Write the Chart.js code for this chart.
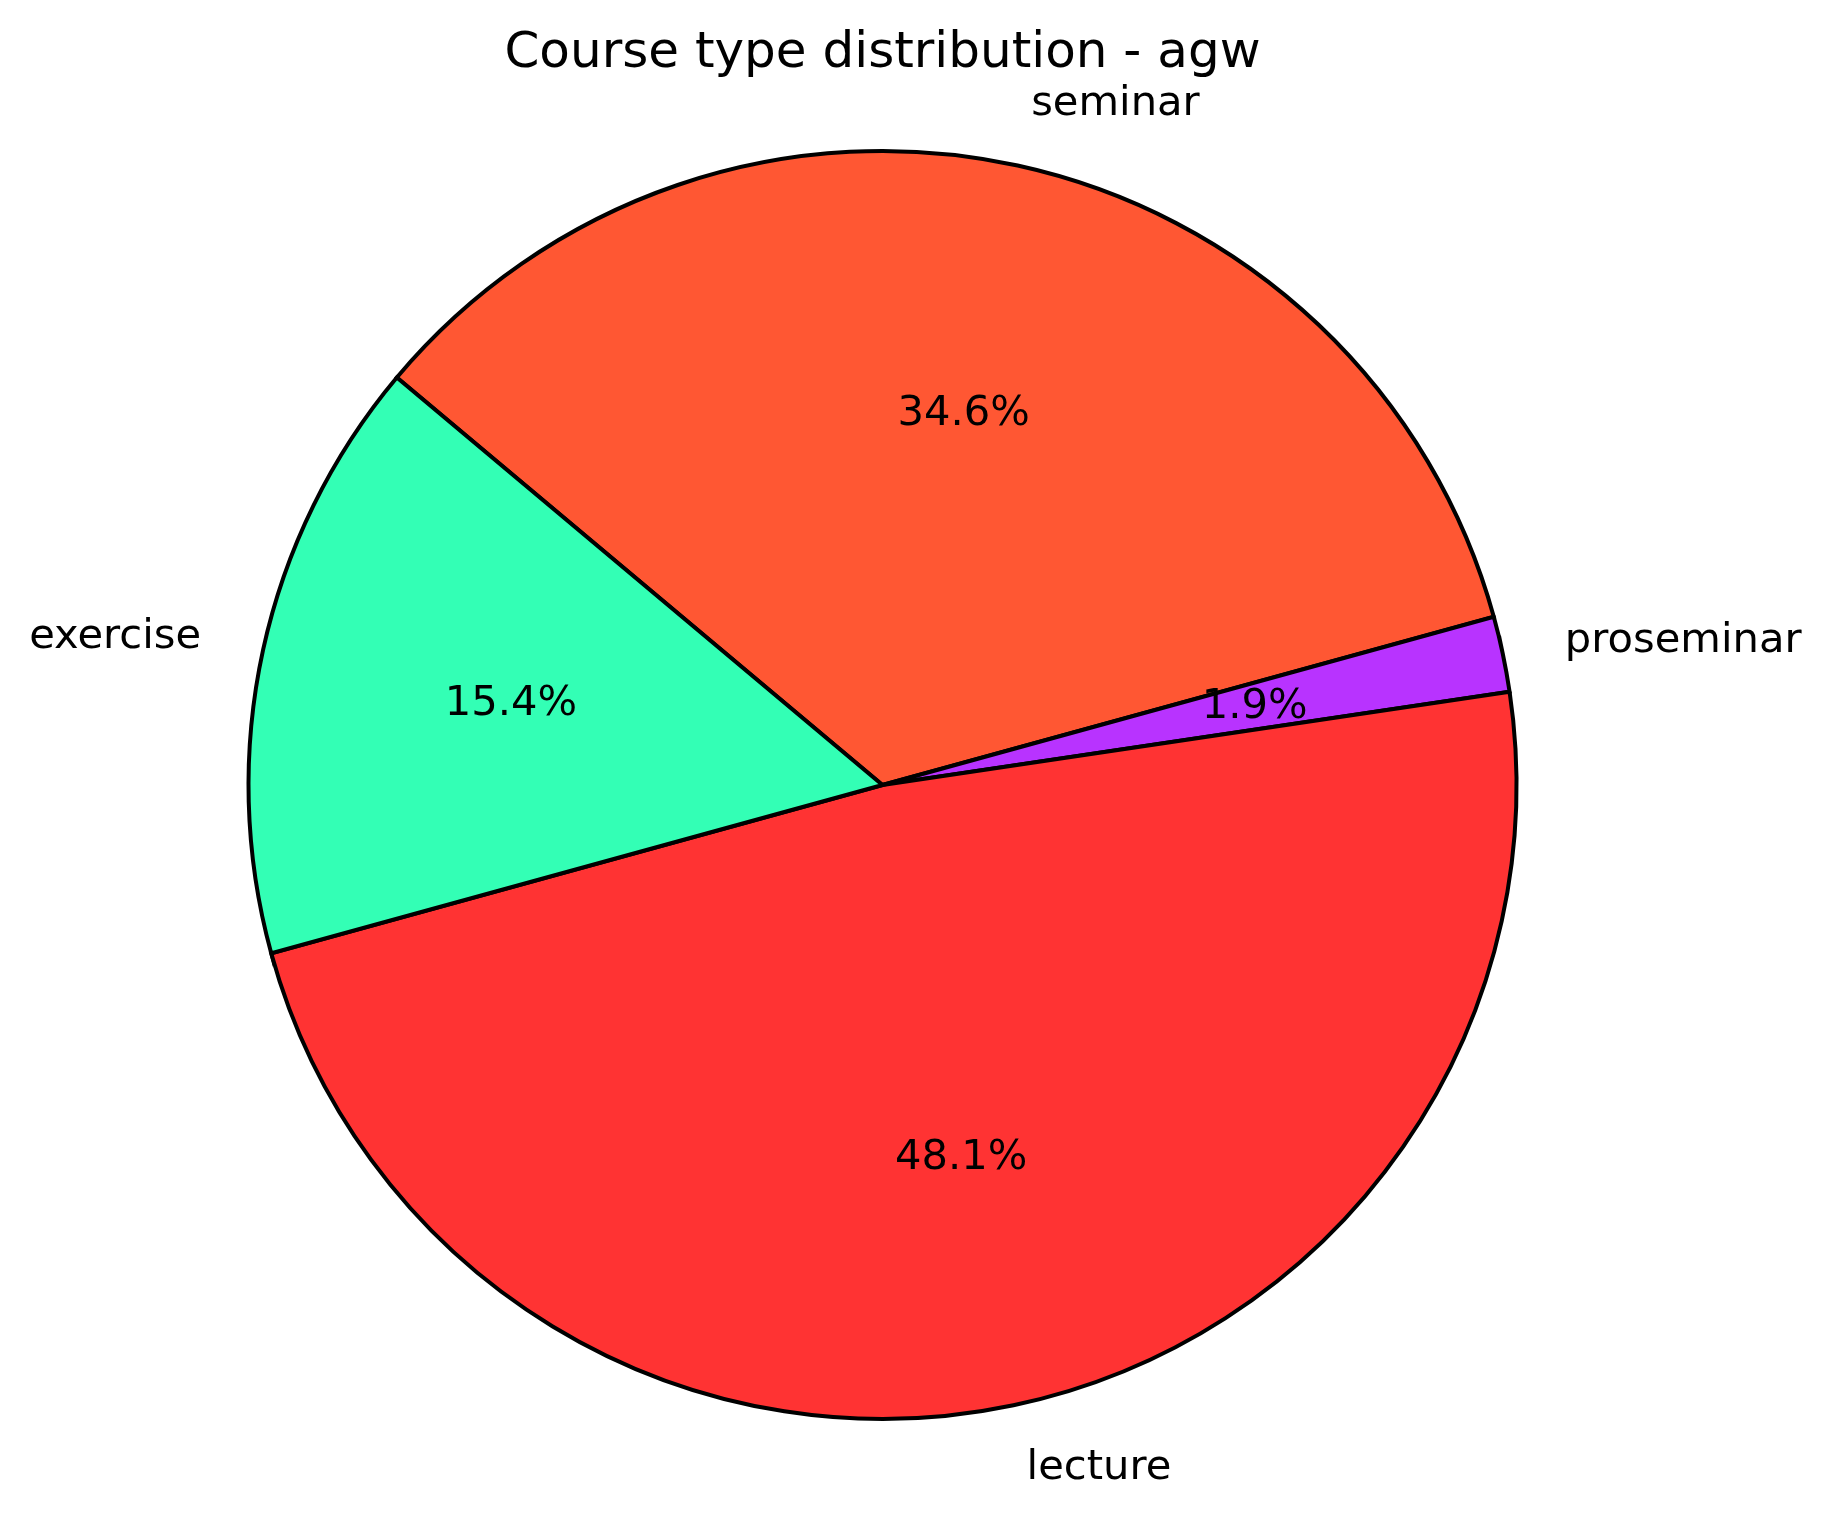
<!DOCTYPE html>
<html>
<head>
<meta charset="utf-8">
<script src="https://cdn.jsdelivr.net/npm/chart.js@4/dist/chart.umd.min.js"></script>
<style>
  html, body { margin: 0; padding: 0; background: #ffffff; }
  canvas { display: block; }
</style>
</head>
<body>
<canvas id="c" width="1832" height="1518"></canvas>
<script>
// Data (clockwise order as drawn by Chart.js, matching matplotlib's counter-clockwise layout)
const categories = ['seminar', 'proseminar', 'lecture', 'exercise'];
const counts = [18, 1, 25, 8];
const sliceColors = ['#FF5733', '#B833FF', '#FF3333', '#33FFB5'];
const chartTitle = 'Course type distribution - agw';

const FONT = '"DejaVu Sans", "Liberation Sans", sans-serif';
const LABEL_PX = 41.67;
const TITLE_PX = 50;
const VCENTER_OFFSET = 11.5; // baseline shift to emulate matplotlib va='center'

const labelPlugin = {
  id: 'mplLabels',
  afterDatasetsDraw(chart) {
    const ctx = chart.ctx;
    const meta = chart.getDatasetMeta(0);
    const data = chart.data.datasets[0].data;
    const total = data.reduce((a, b) => a + b, 0);
    ctx.save();
    ctx.fillStyle = '#000000';
    ctx.font = LABEL_PX + 'px ' + FONT;
    ctx.textBaseline = 'alphabetic';
    meta.data.forEach((arc, i) => {
      const p = arc.getProps(['x', 'y', 'startAngle', 'endAngle', 'outerRadius'], true);
      const mid = (p.startAngle + p.endAngle) / 2;
      const c = Math.cos(mid), s = Math.sin(mid);
      // category label at 1.1 R
      const lx = p.x + c * p.outerRadius * 1.1;
      const ly = p.y + s * p.outerRadius * 1.1;
      ctx.textAlign = c > 0 ? 'left' : 'right';
      ctx.fillText(chart.data.labels[i], lx, ly + VCENTER_OFFSET);
      // percentage at 0.6 R
      const px = p.x + c * p.outerRadius * 0.6;
      const py = p.y + s * p.outerRadius * 0.6;
      ctx.textAlign = 'center';
      ctx.fillText((data[i] / total * 100).toFixed(1) + '%', px, py + VCENTER_OFFSET);
    });
    // title
    const ca = chart.chartArea;
    ctx.font = TITLE_PX + 'px ' + FONT;
    ctx.textAlign = 'center';
    ctx.fillText(chartTitle, (ca.left + ca.right) / 2, 67);
    ctx.restore();
  }
};

new Chart(document.getElementById('c'), {
  type: 'pie',
  data: {
    labels: categories,
    datasets: [{
      data: counts,
      backgroundColor: sliceColors,
      borderColor: '#000000',
      borderWidth: 4,
      borderJoinStyle: 'miter'
    }]
  },
  options: {
    responsive: false,
    devicePixelRatio: 1,
    animation: false,
    rotation: -50,
    radius: 634,
    layout: { padding: { left: 248.5, right: 315.5, top: 151, bottom: 99 } },
    plugins: {
      legend: { display: false },
      title: { display: false },
      tooltip: { enabled: false }
    }
  },
  plugins: [labelPlugin]
});
</script>
</body>
</html>
